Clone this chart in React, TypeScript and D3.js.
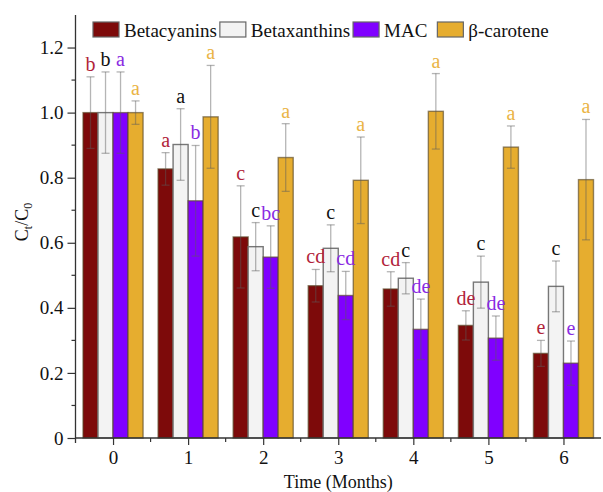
import { useEffect, useRef } from "react";
import * as d3 from "d3";

const W = 603;
const H = 492;
const MARGIN = { top: 15, right: 2, bottom: 54, left: 75.5 };

const months = [0, 1, 2, 3, 4, 5, 6];
const seriesNames = ["Betacyanins", "Betaxanthins", "MAC", "β-carotene"];

const betacyanins = [1.0, 0.827, 0.618, 0.468, 0.458, 0.346, 0.26];
const betacyaninsErr = [0.11, 0.05, 0.157, 0.05, 0.053, 0.045, 0.04];
const betaxanthins = [1.0, 0.902, 0.588, 0.583, 0.491, 0.479, 0.466];
const betaxanthinsErr = [0.125, 0.11, 0.074, 0.072, 0.048, 0.08, 0.078];
const mac = [1.0, 0.729, 0.556, 0.438, 0.334, 0.307, 0.23];
const macErr = [0.125, 0.17, 0.096, 0.074, 0.093, 0.068, 0.068];
const carotene = [1.0, 0.987, 0.862, 0.792, 1.004, 0.894, 0.794];
const caroteneErr = [0.036, 0.158, 0.104, 0.133, 0.116, 0.065, 0.185];

const betacyaninsLetters = ["b", "a", "c", "cd", "cd", "de", "e"];
const betaxanthinsLetters = ["b", "a", "c", "c", "c", "c", "c"];
const macLetters = ["a", "b", "bc", "cd", "de", "de", "e"];
const caroteneLetters = ["a", "a", "a", "a", "a", "a", "a"];

const yTicks = [0, 0.2, 0.4, 0.6, 0.8, 1.0, 1.2];

const FILLS = ["#7d0a0a", "#f3f3f3", "#8000ff", "#e6ad2f"];
const LETTER_COLORS = ["#b1243a", "#111111", "#8a2be2", "#eab445"];
const FONT = "'Liberation Serif', 'Times New Roman', serif";

export default function App() {
  const ref = useRef<SVGSVGElement>(null);

  useEffect(() => {
    const svg = d3.select(ref.current);
    svg.selectAll("*").remove();

    const innerW = W - MARGIN.left - MARGIN.right;
    const innerH = H - MARGIN.top - MARGIN.bottom;

    const x = d3.scaleLinear().domain([-0.5, 6.5]).range([0, innerW]);
    const y = d3.scaleLinear().domain([0, 1.3]).range([innerH, 0]);
    const step = x(1) - x(0);
    const inner = d3
      .scaleBand()
      .domain(seriesNames)
      .range([-step * 0.4, step * 0.4])
      .padding(0);

    const values = [betacyanins, betaxanthins, mac, carotene];
    const errs = [betacyaninsErr, betaxanthinsErr, macErr, caroteneErr];
    const letters = [betacyaninsLetters, betaxanthinsLetters, macLetters, caroteneLetters];

    const g = svg
      .append("g")
      .attr("transform", `translate(${MARGIN.left},${MARGIN.top})`);

    // bars
    seriesNames.forEach((name, si) => {
      const bx = (m: number) => x(m) + (inner(name) as number);
      const bw = inner.bandwidth();
      g.append("g")
        .selectAll("rect")
        .data(months)
        .join("rect")
        .attr("x", (m) => bx(m))
        .attr("y", (m, i) => y(values[si][i]))
        .attr("width", bw)
        .attr("height", (m, i) => innerH - y(values[si][i]))
        .attr("fill", FILLS[si])
        .attr("stroke", si === 1 ? "#777" : "#5a4a2a")
        .attr("stroke-opacity", si === 1 ? 1 : 0.65)
        .attr("stroke-width", 1.4);
    });

    // error bars + letters
    seriesNames.forEach((name, si) => {
      const cx = (m: number) => x(m) + (inner(name) as number) + inner.bandwidth() / 2;
      const eg = g
        .append("g")
        .attr("stroke", "#5a5a5a")
        .attr("stroke-opacity", 0.45)
        .attr("stroke-width", 1.3);
      months.forEach((m, i) => {
        const hi = y(values[si][i] + errs[si][i]);
        const lo = y(values[si][i] - errs[si][i]);
        eg.append("line").attr("x1", cx(m)).attr("x2", cx(m)).attr("y1", hi).attr("y2", lo);
        eg.append("line").attr("x1", cx(m) - 4).attr("x2", cx(m) + 4).attr("y1", hi).attr("y2", hi);
        eg.append("line").attr("x1", cx(m) - 4).attr("x2", cx(m) + 4).attr("y1", lo).attr("y2", lo);
        g.append("text")
          .attr("x", cx(m))
          .attr("y", hi - 6)
          .attr("text-anchor", "middle")
          .attr("font-family", FONT)
          .attr("font-size", 20)
          .attr("fill", LETTER_COLORS[si])
          .text(letters[si][i]);
      });
    });

    // y axis
    const yAxis = d3
      .axisLeft(y)
      .tickValues(yTicks)
      .tickSize(8)
      .tickPadding(4)
      .tickFormat((d) => (d === 0 ? "0" : d3.format(".1f")(d as number)));
    const ya = g.append("g").call(yAxis);
    ya.select(".domain").remove();
    ya.selectAll("text").attr("font-family", FONT).attr("font-size", 19).attr("fill", "#111");
    ya.selectAll("line").attr("stroke", "#333").attr("stroke-width", 1.2);
    const yMinor = d3.range(0.1, 1.3, 0.2);
    g.append("g")
      .selectAll("line")
      .data(yMinor)
      .join("line")
      .attr("x1", -4)
      .attr("x2", 0)
      .attr("y1", (d) => y(d))
      .attr("y2", (d) => y(d))
      .attr("stroke", "#333")
      .attr("stroke-width", 1.2);
    g.append("line")
      .attr("x1", 0)
      .attr("x2", 0)
      .attr("y1", 0)
      .attr("y2", innerH + 5)
      .attr("stroke", "#333")
      .attr("stroke-width", 1.3);

    // x axis
    const xAxis = d3
      .axisBottom(x)
      .tickValues(months)
      .tickSize(7)
      .tickPadding(6)
      .tickFormat((d) => String(d));
    const xa = g.append("g").attr("transform", `translate(0,${innerH})`).call(xAxis);
    xa.select(".domain").remove();
    xa.selectAll("text").attr("font-family", FONT).attr("font-size", 19).attr("fill", "#111");
    xa.selectAll("line").attr("stroke", "#333").attr("stroke-width", 1.2);
    g.append("g")
      .selectAll("line")
      .data(months.slice(0, 6).map((m) => m + 0.5))
      .join("line")
      .attr("x1", (d) => x(d))
      .attr("x2", (d) => x(d))
      .attr("y1", innerH)
      .attr("y2", innerH + 4)
      .attr("stroke", "#333")
      .attr("stroke-width", 1.2);
    g.append("line")
      .attr("x1", 0)
      .attr("x2", innerW)
      .attr("y1", innerH)
      .attr("y2", innerH)
      .attr("stroke", "#333")
      .attr("stroke-width", 1.3);

    // axis titles
    g.append("text")
      .attr("x", innerW / 2)
      .attr("y", innerH + 50)
      .attr("text-anchor", "middle")
      .attr("font-family", FONT)
      .attr("font-size", 18)
      .attr("fill", "#111")
      .text("Time (Months)");

    const yl = svg
      .append("text")
      .attr("transform", `translate(28,222) rotate(-90)`)
      .attr("text-anchor", "middle")
      .attr("font-family", FONT)
      .attr("font-size", 18)
      .attr("fill", "#111");
    yl.append("tspan").text("C");
    yl.append("tspan").attr("font-size", 12).attr("dy", 4).text("t");
    yl.append("tspan").attr("dy", -4).text("/C");
    yl.append("tspan").attr("font-size", 12).attr("dy", 4).text("0");

    // legend
    const lg = svg.append("g").attr("transform", "translate(93,22)");
    let lx = 0;
    seriesNames.forEach((name, si) => {
      lg.append("rect")
        .attr("x", lx)
        .attr("y", 0)
        .attr("width", 26)
        .attr("height", 15)
        .attr("fill", FILLS[si])
        .attr("stroke", "#666")
        .attr("stroke-width", 1.2);
      const t = lg
        .append("text")
        .attr("x", lx + 31)
        .attr("y", 15)
        .attr("font-family", FONT)
        .attr("font-size", 19)
        .attr("fill", "#111")
        .text(name);
      const tw = (t.node() as SVGTextElement).getComputedTextLength();
      lx += 31 + tw + (si === 2 ? 10 : 3);
    });
  }, []);

  return (
    <svg
      ref={ref}
      width={W}
      height={H}
      style={{ position: "absolute", left: 0, top: 0, background: "#fff" }}
    />
  );
}
